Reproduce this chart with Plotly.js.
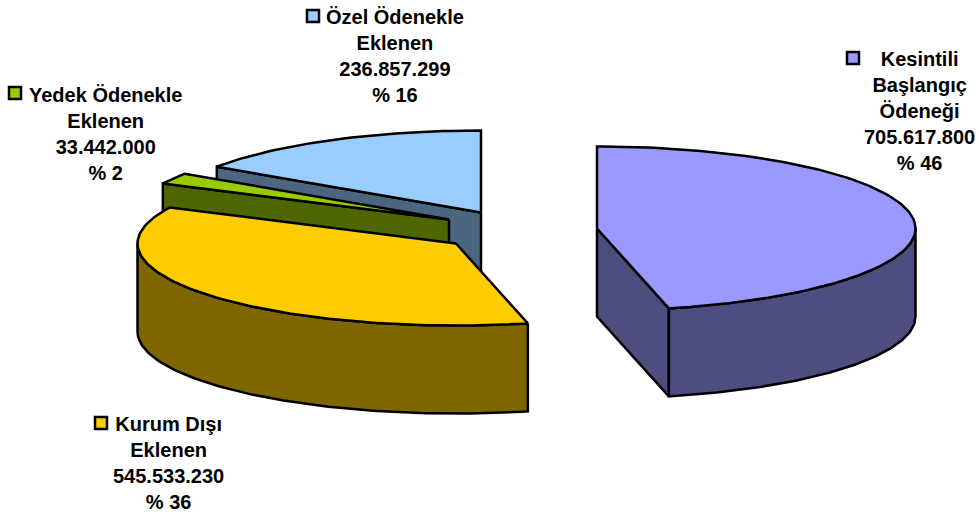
<!DOCTYPE html>
<html>
<head>
<meta charset="utf-8">
<script src="https://cdn.plot.ly/plotly-3.0.1.min.js"></script>
<style>html,body{margin:0;padding:0;background:#fff;overflow:hidden}#c{width:979px;height:515px}</style>
</head>
<body>
<div id="c"></div>
<script>
// Data, clockwise from twelve o'clock
const names = ["Kesintili<br>Başlangıç<br>Ödeneği", "Kurum Dışı<br>Eklenen", "Yedek Ödenekle<br>Eklenen", "Özel Ödenekle<br>Eklenen"];
const values = [705617800, 545533230, 33442000, 236857299];
const valueLabels = ["705.617.800", "545.533.230", "33.442.000", "236.857.299"];
const percentLabels = ["% 46", "% 36", "% 2", "% 16"];

// Style
const topColors = ["#9999FF", "#FFCC00", "#99CC00", "#99CCFF"];
const wallColors = ["#4D4D80", "#806600", "#4D6600", "#4D6680"];

// Layout of the exploded pie
const apexX = [597, 456, 449, 481];
const apexY = [228.5, 243.5, 219.5, 212.5];
const radiusX = 318.5, radiusY = 82, depth = 88;
const labelX = [919.5, 168, 105, 394.5];
const labelY = [110.5, 463, 133.5, 55.5];
const keyX = [853, 101, 15, 313];
const keyY = [58, 423, 93, 16];

const total = values.reduce((a, b) => a + b, 0);
const starts = [];
values.reduce((acc, v, i) => { starts[i] = acc; return acc + v / total * 2 * Math.PI; }, 0);
const ends = values.map((v, i) => starts[i] + v / total * 2 * Math.PI);

function arc(i, a0, a1, drop) {
  const n = Math.max(2, Math.ceil(Math.abs(a1 - a0) / 0.02));
  const xs = [], ys = [];
  for (let k = 0; k <= n; k++) {
    const a = a0 + (a1 - a0) * k / n;
    xs.push(apexX[i] + radiusX * Math.sin(a));
    ys.push(apexY[i] - radiusY * Math.cos(a) + drop);
  }
  return [xs, ys];
}
function poly(xs, ys, fill) {
  return {
    type: "scatter", mode: "lines", x: xs.concat(xs[0]), y: ys.concat(ys[0]),
    fill: "toself", fillcolor: fill, line: {color: "#000", width: 2.5, shape: "linear"},
    hoverinfo: "skip", showlegend: false
  };
}
function topFace(i) {
  const [xs, ys] = arc(i, starts[i], ends[i], 0);
  return poly([apexX[i]].concat(xs), [apexY[i]].concat(ys), topColors[i]);
}
function outerWall(i, a0, a1) {
  const [x1, y1] = arc(i, a0, a1, 0);
  const [x2, y2] = arc(i, a0, a1, depth);
  return poly(x1.concat(x2.reverse()), y1.concat(y2.reverse()), wallColors[i]);
}
function cutWall(i, a) {
  const ex = apexX[i] + radiusX * Math.sin(a), ey = apexY[i] - radiusY * Math.cos(a);
  return poly([apexX[i], ex, ex, apexX[i]], [apexY[i], ey, ey + depth, apexY[i] + depth], wallColors[i]);
}

const traces = [
  cutWall(3, starts[3]), topFace(3),
  cutWall(2, starts[2]), topFace(2),
  outerWall(1, starts[1], 1.5 * Math.PI), topFace(1),
  cutWall(0, ends[0]), outerWall(0, 0.5 * Math.PI, ends[0]), topFace(0),
  {
    type: "scatter", mode: "markers", x: keyX, y: keyY,
    marker: {symbol: "square", size: 12, color: topColors, line: {color: "#000", width: 2.5}},
    hoverinfo: "skip", showlegend: false
  }
];

const annotations = names.map((n, i) => ({
  x: labelX[i], y: labelY[i], xref: "x", yref: "y", showarrow: false,
  xanchor: "center", yanchor: "middle", align: "center",
  text: "<b>" + n + "<br>" + valueLabels[i] + "<br>" + percentLabels[i] + "</b>",
  font: {family: "Liberation Sans, Arial, sans-serif", size: 20, color: "#000"}
}));

Plotly.newPlot("c", traces, {
  width: 979, height: 515, margin: {l: 0, r: 0, t: 0, b: 0},
  paper_bgcolor: "#fff", plot_bgcolor: "#fff", showlegend: false,
  xaxis: {range: [0, 979], visible: false, fixedrange: true},
  yaxis: {range: [515, 0], visible: false, fixedrange: true},
  annotations: annotations
}, {displayModeBar: false, staticPlot: true});
</script>
</body>
</html>
